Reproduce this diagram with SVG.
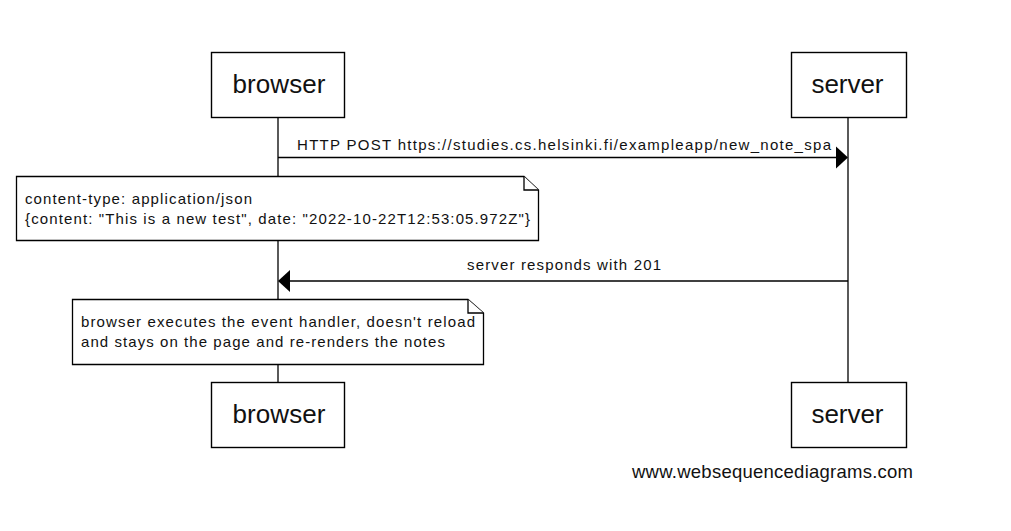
<svg xmlns="http://www.w3.org/2000/svg" width="1011" height="531" viewBox="0 0 1011 531">
  <style>
    .box { fill: #fff; stroke: #000; stroke-width: 1.4; }
    .life { stroke: #000; stroke-width: 1.3; fill: none; }
    .msg { stroke: #000; stroke-width: 1.3; fill: none; }
    .head { fill: #000; stroke: none; }
    .note { fill: #fff; stroke: #000; stroke-width: 1.3; }
    .big { font-family: "Liberation Sans", Arial, sans-serif; font-size: 26px; fill: #111; text-anchor: middle; }
    .small { font-family: "Liberation Sans", Arial, sans-serif; font-size: 15px; fill: #111; }
    .wm { font-family: "Liberation Sans", Arial, sans-serif; font-size: 18.5px; fill: #111; }
  </style>
  <rect width="1011" height="531" fill="#fff"/>

  <g id="lifelines">
    <line class="life" x1="278" y1="117" x2="278" y2="382"/>
    <line class="life" x1="848" y1="117" x2="848" y2="382"/>
  </g>

  <g id="connectors">
    <g id="msg1">
      <line class="msg" x1="278" y1="157.5" x2="838" y2="157.5"/>
      <polygon class="head" points="848,157.5 836,146.5 836,168.5"/>
      <text class="small" x="297" y="150" textLength="534" lengthAdjust="spacing">HTTP POST https://studies.cs.helsinki.fi/exampleapp/new_note_spa</text>
    </g>
    <g id="msg2">
      <line class="msg" x1="848" y1="281" x2="288" y2="281"/>
      <polygon class="head" points="278,281 290,270 290,292"/>
      <text class="small" x="467" y="270" textLength="194" lengthAdjust="spacing">server responds with 201</text>
    </g>
  </g>

  <g id="browser-top">
    <rect class="box" x="211.5" y="52.5" width="133" height="65"/>
    <text class="big" x="279" y="93" textLength="93" lengthAdjust="spacing">browser</text>
  </g>
  <g id="server-top">
    <rect class="box" x="791.5" y="52.5" width="115" height="65"/>
    <text class="big" x="847.5" y="93" textLength="72" lengthAdjust="spacing">server</text>
  </g>

  <g id="note1">
    <path class="note" d="M16.5,176.5 H524 L538.5,190 V240.5 H16.5 Z"/>
    <path class="note" d="M524,176.5 V190 H538.5" fill="none"/>
    <text class="small" x="25" y="204" textLength="227" lengthAdjust="spacing">content-type: application/json</text>
    <text class="small" x="25" y="224" textLength="505" lengthAdjust="spacing">{content: "This is a new test", date: "2022-10-22T12:53:05.972Z"}</text>
  </g>

  <g id="note2">
    <path class="note" d="M72.5,299.5 H468 L483.5,313 V364.5 H72.5 Z"/>
    <path class="note" d="M468,299.5 V313 H483.5" fill="none"/>
    <text class="small" x="81" y="327" textLength="394" lengthAdjust="spacing">browser executes the event handler, doesn't reload</text>
    <text class="small" x="81" y="347" textLength="364" lengthAdjust="spacing">and stays on the page and re-renders the notes</text>
  </g>

  <g id="browser-bottom">
    <rect class="box" x="211.5" y="382.5" width="133" height="65"/>
    <text class="big" x="279" y="423" textLength="93" lengthAdjust="spacing">browser</text>
  </g>
  <g id="server-bottom">
    <rect class="box" x="791.5" y="382.5" width="115" height="65"/>
    <text class="big" x="847.5" y="423" textLength="72" lengthAdjust="spacing">server</text>
  </g>

  <g id="watermark">
    <text class="wm" x="632" y="478" textLength="281" lengthAdjust="spacing">www.websequencediagrams.com</text>
  </g>
</svg>
